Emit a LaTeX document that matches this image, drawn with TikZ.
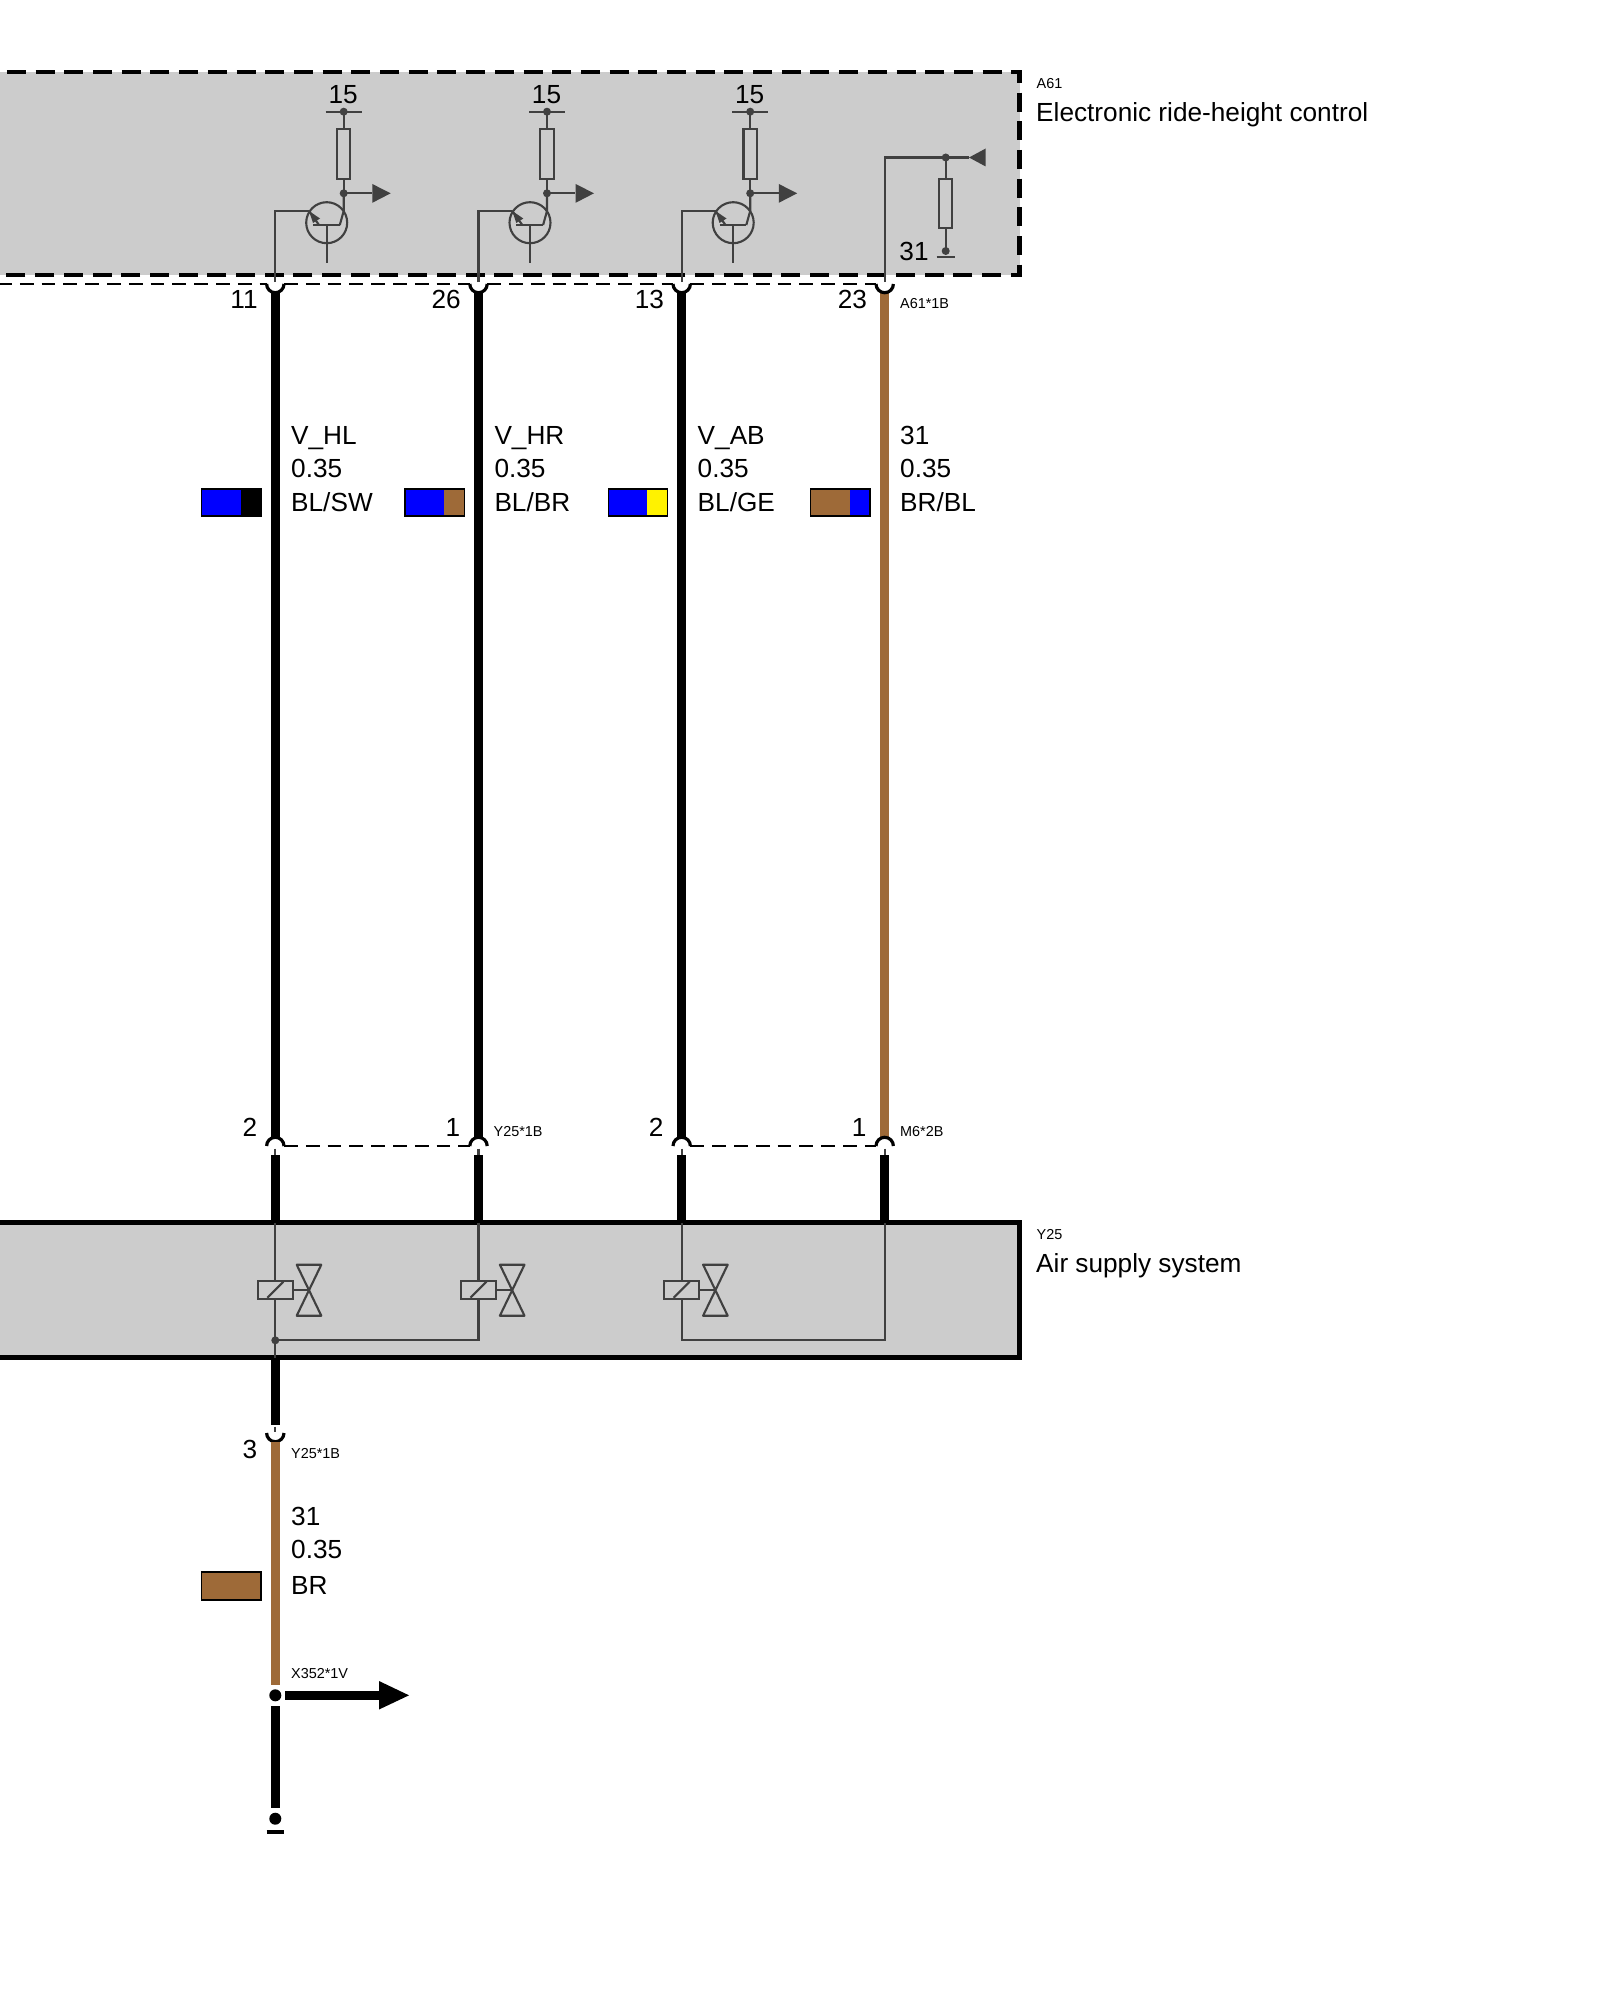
\documentclass[tikz,border=0pt]{standalone}
\usepackage{fontspec}
\setmainfont{Liberation Sans}
\definecolor{boxgray}{HTML}{CCCCCC}
\definecolor{symgray}{HTML}{404040}
\definecolor{wirebrown}{HTML}{9E6A38}
\tikzset{
  wireblack/.style={line width=2.7pt,black},
  wirebr/.style={line width=2.7pt,wirebrown},
  thinline/.style={line width=0.6pt,symgray},
  pincup/.style={line width=0.9pt,black},
  link/.style={line width=0.6pt,black,dash pattern=on 3.9pt off 2.3pt},
  swatch/.style={line width=0.4pt,black},
  lbl/.style={inner sep=0pt,anchor=base west,font=\fontsize{7.45}{8}\selectfont},
  tag/.style={inner sep=0pt,anchor=base west,font=\fontsize{4.1}{5}\selectfont},
  pinno/.style={inner sep=0pt,anchor=base east,font=\fontsize{7.45}{8}\selectfont},
}
\begin{document}
\begin{tikzpicture}[x=0.01cm,y=-0.01cm]
  \useasboundingbox (0,0) rectangle (1600,2000);

  % Gehaeuse A61
  \fill[boxgray] (-22,72) rectangle (1019.5,275);
  \draw[line width=1.3pt,dash pattern=on 5.4pt off 2.76pt] (-21.7,72) -- (1019.5,72) -- (1019.5,275) -- (-22,275);
  \node[tag] (nameA) at (1036,88.5) {A61};
  \node[lbl] (titleA) at (1035.5,122) {Electronic ride-height control};

  % Gehaeuse Y25
  \draw[line width=1.3pt,fill=boxgray] (-22,1222.5) -- (1019.5,1222.5) -- (1019.5,1357.5) -- (-22,1357.5);
  \node[tag] (nameY) at (1036,1239.5) {Y25};
  \node[lbl] (titleY) at (1035.5,1272) {Air supply system};

  % Leitungen
  \foreach \i/\x/\a/\b/\w in {1/275.3/11/2/wireblack,2/478.5/26/1/wireblack,3/681.7/13/2/wireblack,4/884.7/23/1/wirebr} {
    \coordinate (top\i) at (\x,284);
    \coordinate (mid\i) at (\x,1146);
    \coordinate (stub\i) at (\x,1155);
    \coordinate (yin\i) at (\x,1222.5);
    \draw[\w] (\x,291) -- (\x,1138);
    \draw[wireblack] (stub\i) -- (yin\i);
    \draw[thinline] (mid\i) ++(0,2.5) -- (stub\i);
    \draw[pincup] (top\i) ++(-8.7,0) arc[start angle=180,end angle=0,radius=8.7];
    \draw[pincup] (mid\i) ++(-8.7,0) arc[start angle=180,end angle=360,radius=8.7];
    \node[pinno] (pinA\i) at (\x-17,308) {\a};
    \node[pinno] (pinB\i) at (\x-17.5,1136.5) {\b};
  }
  \draw[link] (-2,284) -- ([xshift=-8.7*0.01cm]top1);
  \draw[link] ([xshift=8.7*0.01cm]top1) -- ([xshift=-8.7*0.01cm]top2);
  \draw[link] ([xshift=8.7*0.01cm]top2) -- ([xshift=-8.7*0.01cm]top3);
  \draw[link] ([xshift=8.7*0.01cm]top3) -- ([xshift=-8.7*0.01cm]top4);
  \draw[link] ([xshift=8.7*0.01cm]mid1) -- ([xshift=-8.7*0.01cm]mid2);
  \draw[link] ([xshift=8.7*0.01cm]mid3) -- ([xshift=-8.7*0.01cm]mid4);
  \node[tag] (tagA) at (899.5,308) {A61*1B};
  \node[tag] (tagY) at (493,1136) {Y25*1B};
  \node[tag] (tagM) at (899.5,1136) {M6*2B};

  % Adern: Beschriftung und Farbfeld
  \foreach \i/\x/\na/\co/\cl/\cr in {1/0/V\_HL/BL\slash SW/blue/black,2/203.3/V\_HR/BL\slash BR/blue/wirebrown,3/406.5/V\_AB/BL\slash GE/blue/yellow,4/609/31/BR\slash BL/wirebrown/blue} {
    \node[lbl] (sig\i) at (290.5+\x,444) {\na};
    \node[lbl] (cross\i) at (290.5+\x,477.5) {0.35};
    \node[lbl] (col\i) at (290.5+\x,511) {\co};
    \fill[\cl] (201.7+\x,489) rectangle (240.7+\x,516);
    \fill[\cr] (240.7+\x,489) rectangle (261+\x,516);
    \draw[swatch] (201.7+\x,489) rectangle (261+\x,516);
  }

  % Transistorstufen in A61
  \foreach \i/\x in {1/0,2/203.3,3/406.5} {
    \begin{scope}[shift={(\x,0)}]
      \coordinate (rail\i) at (343.7,111.7);
      \coordinate (node\i) at (343.7,193.3);
      \coordinate (base\i) at (309,211);
      \node[lbl,anchor=base] (volt\i) at (343.2,104) {15};
      \draw[thinline] (325.7,111.7) -- (361.7,111.7);
      \fill[symgray] (rail\i) circle (4);
      \draw[thinline] (rail\i) -- (node\i);
      \draw[thinline,fill=boxgray] (337,129.3) rectangle (350.3,179);
      \fill[symgray] (node\i) circle (4);
      \draw[thinline] (node\i) -- (372,193.3);
      \fill[symgray] (372.3,184) -- (390.7,193.3) -- (372.3,202.8) -- cycle;
      \draw[thinline] (326.7,222.7) circle (20.5);
      \draw[thinline] (313,225) -- (339.8,225);
      \draw[thinline] (326.7,225) -- (326.7,263);
      \draw[thinline] (339.8,225) -- (343.7,211) -- (node\i);
      \draw[thinline] (319,225) -- (base\i);
      \fill[symgray] (base\i) -- (320,218.5) -- (313,223) -- cycle;
    \end{scope}
    \draw[thinline] (top\i) ++(0,-2) |- (base\i);
  }

  % Rueckleitung in A61
  \coordinate (sense) at (945.7,157.5);
  \coordinate (gnd) at (945.7,251);
  \node[lbl,anchor=base] (gndno) at (914,261) {31};
  \draw[thinline] (top4) ++(0,-2) |- (969,157.5);
  \fill[symgray] (sense) circle (4);
  \fill[symgray] (969,157.5) -- (985.7,148.5) -- (985.7,166.5) -- cycle;
  \draw[thinline] (sense) -- (gnd);
  \draw[thinline,fill=boxgray] (939,179) rectangle (952,228.3);
  \fill[symgray] (gnd) circle (4);
  \draw[line width=0.6pt,symgray] (936.7,257.3) -- (954.7,257.3);

  % Ventile in Y25
  \coordinate (low1) at (275.3,1340.3);
  \coordinate (low2) at (478.5,1340.3);
  \coordinate (low3) at (681.7,1340.3);
  \coordinate (low4) at (884.7,1340.3);
  \coordinate (yout) at (275.3,1357.5);
  \draw[thinline] (yin1) -- (yout);
  \draw[thinline] (yin2) -- (low2) -- (low1);
  \draw[thinline] (yin3) -- (low3) -- (low4) -- (yin4);
  \fill[symgray] (low1) circle (4);
  \foreach \i/\x in {1/275.3,2/478.5,3/681.7} {
    \draw[thinline,fill=boxgray] (\x-17.5,1281) rectangle (\x+17.5,1298.7);
    \draw[thinline] (\x-8,1297.7) -- (\x+8,1281.7);
    \draw[thinline] (\x+17.5,1290) -- (\x+33.7,1290);
    \draw[thinline,line join=round] (\x+21.4,1264.7) -- (\x+46,1264.7) -- (\x+21.4,1315.7) -- (\x+46,1315.7) -- cycle;
  }

  % Abgang nach Masse
  \coordinate (cup) at (275.3,1433);
  \coordinate (split) at (275.3,1695.3);
  \coordinate (earth) at (275.3,1818.7);
  \coordinate (exit) at (379,1695.3);
  \draw[wireblack] (yout) -- (275.3,1425);
  \draw[thinline] (275.3,1426.5) -- (275.3,1432);
  \draw[pincup] (cup) ++(-8.7,0) arc[start angle=180,end angle=0,radius=8.7];
  \draw[wirebr] (275.3,1442) -- (275.3,1685);
  \draw[wireblack] (275.3,1706) -- (275.3,1808);
  \fill[black] (split) circle (6);
  \fill[black] (earth) circle (6);
  \draw[line width=1.2pt] (266.7,1831.7) -- (283.7,1831.7);
  \draw[wireblack] (285,1695.3) -- (exit);
  \fill[black] (379,1681) -- (409,1695.3) -- (379,1709.5) -- cycle;
  \node[pinno] (pinC) at (258,1458.5) {3};
  \node[tag] (tagYc) at (290.5,1458.5) {Y25*1B};
  \node[lbl] (sig5) at (290.5,1525) {31};
  \node[lbl] (cross5) at (290.5,1558) {0.35};
  \node[lbl] (col5) at (290.5,1594) {BR};
  \draw[swatch,fill=wirebrown] (201.7,1572) rectangle (261,1600);
  \node[tag] (tagX) at (290.5,1678) {X352*1V};
\end{tikzpicture}
\end{document}
